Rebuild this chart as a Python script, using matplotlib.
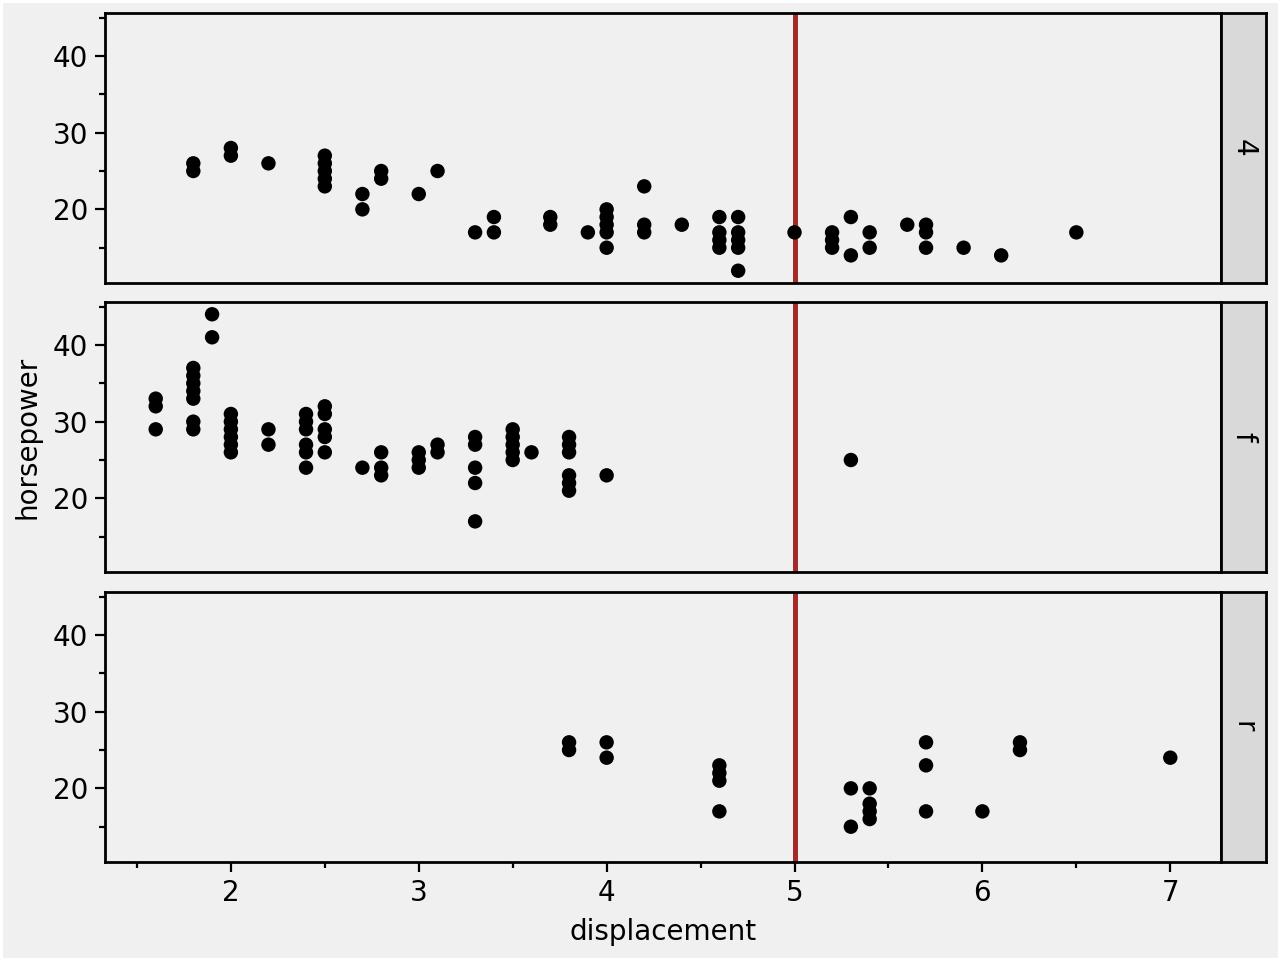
import numpy as np
import matplotlib
matplotlib.use("Agg")
import matplotlib.pyplot as plt

# displacement / horsepower points per drive type
displ_4 = [1.8, 1.8, 2.0, 2.0, 2.2, 2.5, 2.5, 2.5, 2.5, 2.5, 2.7, 2.7, 2.8, 2.8,
           3.0, 3.1, 3.3, 3.4, 3.4, 3.7, 3.7, 3.9, 4.0, 4.0, 4.0, 4.0, 4.0,
           4.2, 4.2, 4.2, 4.4, 4.6, 4.6, 4.6, 4.6, 4.7, 4.7, 4.7, 4.7, 4.7,
           5.0, 5.2, 5.2, 5.2, 5.3, 5.3, 5.4, 5.4, 5.6, 5.7, 5.7, 5.7, 5.9, 6.1, 6.5]
hp_4 = [25, 26, 27, 28, 26, 23, 24, 25, 26, 27, 20, 22, 24, 25,
        22, 25, 17, 17, 19, 18, 19, 17, 15, 17, 18, 19, 20,
        17, 18, 23, 18, 15, 16, 17, 19, 12, 15, 16, 17, 19,
        17, 15, 16, 17, 14, 19, 15, 17, 18, 15, 17, 18, 15, 14, 17]

displ_f = [1.6, 1.6, 1.6, 1.8, 1.8, 1.8, 1.8, 1.8, 1.8, 1.8, 1.9, 1.9,
           2.0, 2.0, 2.0, 2.0, 2.0, 2.0, 2.2, 2.2,
           2.4, 2.4, 2.4, 2.4, 2.4, 2.4, 2.5, 2.5, 2.5, 2.5, 2.5,
           2.7, 2.8, 2.8, 2.8, 3.0, 3.0, 3.0, 3.1, 3.1,
           3.3, 3.3, 3.3, 3.3, 3.3, 3.5, 3.5, 3.5, 3.5, 3.5, 3.6,
           3.8, 3.8, 3.8, 3.8, 3.8, 3.8, 4.0, 5.3]
hp_f = [29, 32, 33, 29, 30, 33, 34, 35, 36, 37, 41, 44,
        26, 27, 28, 29, 30, 31, 27, 29,
        24, 26, 27, 29, 30, 31, 26, 28, 29, 31, 32,
        24, 23, 24, 26, 24, 25, 26, 26, 27,
        17, 22, 24, 27, 28, 25, 26, 27, 28, 29, 26,
        21, 22, 23, 26, 27, 28, 23, 25]

displ_r = [3.8, 3.8, 4.0, 4.0, 4.6, 4.6, 4.6, 4.6, 5.3, 5.3,
           5.4, 5.4, 5.4, 5.4, 5.7, 5.7, 5.7, 6.0, 6.2, 6.2, 7.0]
hp_r = [25, 26, 24, 26, 17, 21, 22, 23, 15, 20,
        16, 17, 18, 20, 17, 23, 26, 17, 25, 26, 24]

panels = [("4", displ_4, hp_4), ("f", displ_f, hp_f), ("r", displ_r, hp_r)]
vline_x = 5

bg = "#f0f0f0"
plt.rcParams["font.family"] = "DejaVu Sans"
plt.rcParams["font.size"] = 10

fig = plt.figure(figsize=(6.4, 4.8), dpi=200, facecolor=bg,
                 edgecolor="white", linewidth=1.2)

W, H = 1280.0, 960.0
left, right, strip_r = 105 / W, 1221 / W, 1266 / W
tops = [13, 302, 592]
ph = 270

all_x = displ_4 + displ_f + displ_r
all_y = hp_4 + hp_f + hp_r
xr = max(all_x) - min(all_x)
yr = max(all_y) - min(all_y)
xlim = (min(all_x) - 0.05 * xr, max(all_x) + 0.05 * xr)
ylim = (min(all_y) - 0.05 * yr, max(all_y) + 0.05 * yr)

for i, (lab, xs, ys) in enumerate(panels):
    y0 = 1 - (tops[i] + ph) / H
    ax = fig.add_axes([left, y0, right - left, ph / H], facecolor=bg)
    ax.scatter(xs, ys, s=27, color="black", edgecolors="none", zorder=3)
    ax.axvline(vline_x, color="#a52a2a", lw=1.8, zorder=2)
    ax.set_xlim(xlim)
    ax.set_ylim(ylim)
    ax.set_yticks([20, 30, 40])
    ax.set_yticks([15, 25, 35, 45], minor=True)
    ax.set_xticks([2, 3, 4, 5, 6, 7])
    ax.set_xticks([1.5, 2.5, 3.5, 4.5, 5.5, 6.5], minor=True)
    for s in ax.spines.values():
        s.set_linewidth(1.0)
    ax.tick_params(which="major", length=3.6, width=0.8, labelsize=10, pad=2.5)
    ax.tick_params(which="minor", length=2.0, width=0.8)
    if i < 2:
        ax.tick_params(axis="x", which="both", bottom=False, labelbottom=False)
    else:
        ax.set_xlabel("displacement", fontsize=10, labelpad=4)
    if i == 1:
        ax.set_ylabel("horsepower", fontsize=10, labelpad=4)

    # facet strip on the right
    sax = fig.add_axes([right, y0, strip_r - right, ph / H], facecolor="#d9d9d9")
    sax.set_xticks([])
    sax.set_yticks([])
    for s in sax.spines.values():
        s.set_linewidth(1.0)
    sax.text(0.5, 0.5, lab, rotation=-90, ha="center", va="center",
             fontsize=10, transform=sax.transAxes)

fig.savefig("out.png", dpi=200, facecolor=bg, edgecolor="white")
